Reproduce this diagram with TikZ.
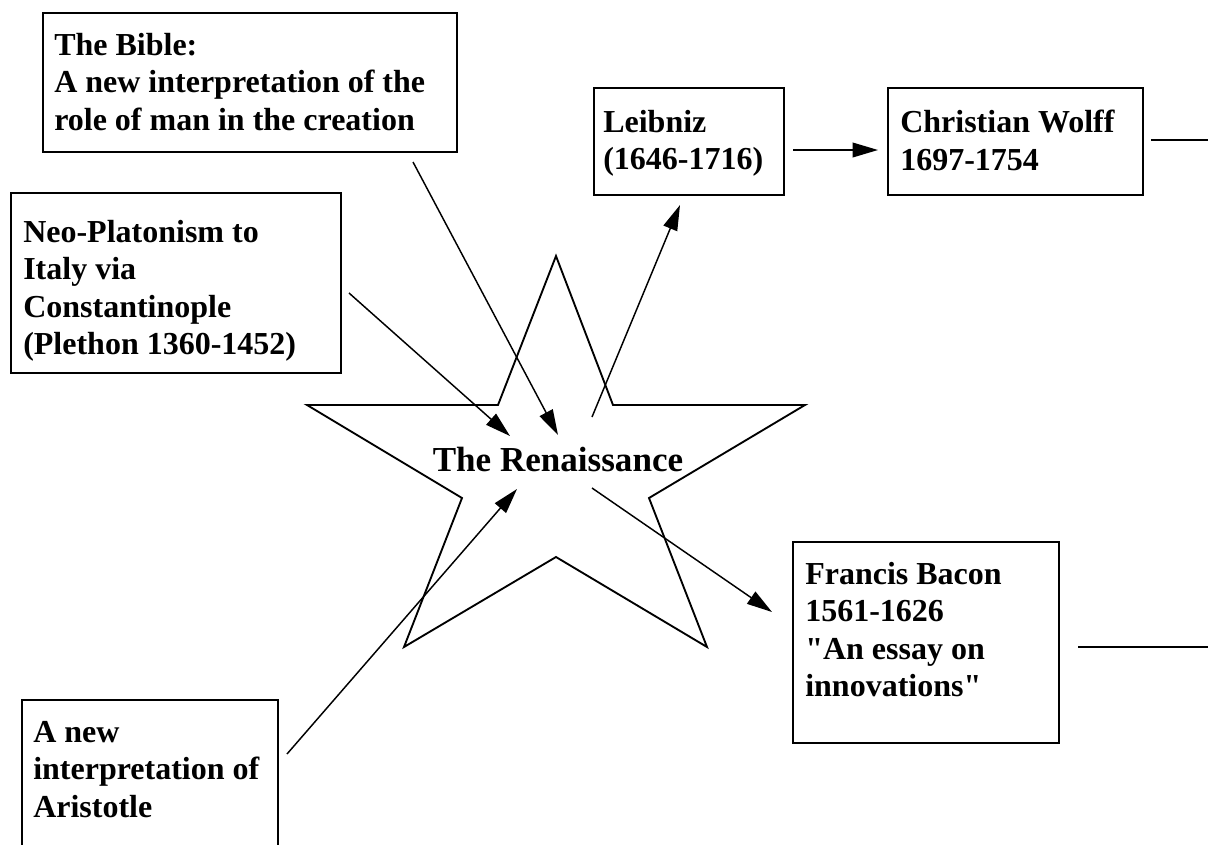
\documentclass[tikz,border=0pt]{standalone}
\usepackage{fontspec}
\setmainfont{Liberation Serif}[Ligatures=TeXOff]
\usetikzlibrary{arrows.meta,fit}

\begin{document}
\begin{tikzpicture}[x=0.75pt, y=-0.75pt,
    box/.style={draw, line width=1.3pt, inner sep=0pt},
    txt/.style={anchor=north west, inner sep=0pt, align=left, font=\bfseries\fontsize{24}{28.1}\selectfont},
    arr/.style={line width=1.1pt, -{Triangle[length=19pt, width=11pt]}}]
    \useasboundingbox (0,0) rectangle (1208,844);
    \node[box, fit={(43,13) (457,152)}] (bible) {};
    \node[txt] (bible-t) at (54,33) {The Bible:\\A new interpretation of the\\role of man in the creation};
    \node[box, fit={(11,193) (341,373)}] (neo) {};
    \node[txt] (neo-t) at (23,220) {Neo-Platonism to\\Italy via\\Constantinople\\(Plethon 1360-1452)};
    \node[box, fit={(594,88) (784,195)}] (leib) {};
    \node[txt] (leib-t) at (603,110) {Leibniz\\(1646-1716)};
    \node[box, fit={(888,88) (1143,195)}] (wolff) {};
    \node[txt] (wolff-t) at (900,110) {Christian Wolff\\1697-1754};
    \node[box, fit={(793,542) (1059,743)}] (bacon) {};
    \node[txt] (bacon-t) at (805,562) {Francis Bacon\\1561-1626\\"An essay on\\innovations"};
    \node[box, fit={(22,700) (278,880)}] (arist) {};
    \node[txt] (arist-t) at (33,721) {A new\\interpretation of\\Aristotle};
    \draw[line width=1.4pt] (556,256) -- (613,405) -- (805,405) -- (649,498) -- (707,647)
        -- (556,557) -- (404,647) -- (462,498) -- (307,405) -- (498,405) -- cycle;
    \node[anchor=base, inner sep=0pt, font=\bfseries\fontsize{26.3}{30}\selectfont] (ren) at (558,471) {The Renaissance};
    \coordinate (bible-a) at (413,162);
    \coordinate (ren-bible) at (558,435);
    \coordinate (neo-a) at (349,293);
    \coordinate (ren-neo) at (510,436);
    \coordinate (ren-leib) at (592,417);
    \coordinate (leib-a) at (680,205);
    \coordinate (arist-a) at (287,754);
    \coordinate (ren-arist) at (517,489);
    \coordinate (ren-bacon) at (592,488);
    \coordinate (bacon-a) at (772,612);
    \coordinate (leib-b) at (793,150);
    \coordinate (wolff-a) at (878,150);
    \coordinate (wolff-b) at (1151,140);
    \coordinate (wolff-out) at (1208,140);
    \coordinate (bacon-b) at (1078,647);
    \coordinate (bacon-out) at (1208,647);
    \draw[arr] (bible-a) -- (ren-bible);
    \draw[arr] (neo-a) -- (ren-neo);
    \draw[arr] (ren-leib) -- (leib-a);
    \draw[arr] (arist-a) -- (ren-arist);
    \draw[arr] (ren-bacon) -- (bacon-a);
    \draw[arr] (leib-b) -- (wolff-a);
    \draw[line width=1.1pt] (wolff-b) -- (wolff-out);
    \draw[line width=1.1pt] (bacon-b) -- (bacon-out);
\end{tikzpicture}
\end{document}
